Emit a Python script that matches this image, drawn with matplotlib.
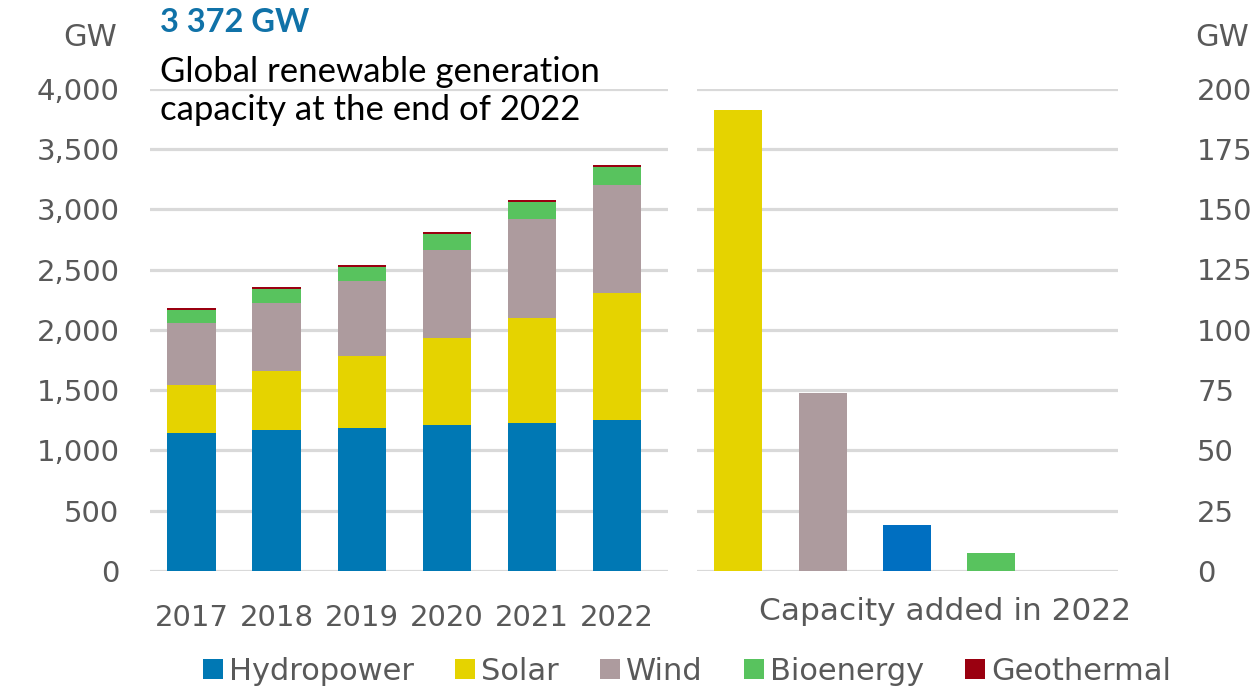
import matplotlib
matplotlib.use("Agg")
import matplotlib.pyplot as plt
from matplotlib.patches import Patch
import numpy as np

# ---- data ----
years = ["2017", "2018", "2019", "2020", "2021", "2022"]
hydro = [1144, 1169, 1188, 1208, 1229, 1249]
solar = [398, 492, 592, 721, 866, 1056]
wind = [514, 561, 622, 732, 823, 897]
bio = [110, 118, 121, 133, 144, 150]
geo = [14, 14, 14, 15, 15, 15]

series_names = ["Hydropower", "Solar", "Wind", "Bioenergy", "Geothermal"]
added_techs = ["Solar", "Wind", "Hydropower", "Bioenergy", "Geothermal"]
added_values = [191, 74, 19, 7.5, 0.2]

left_ticks = [0, 500, 1000, 1500, 2000, 2500, 3000, 3500, 4000]
right_ticks = [0, 25, 50, 75, 100, 125, 150, 175, 200]
right_xlabel = "Capacity added in 2022"
headline = "3 372 GW"
subtitle = "Global renewable generation\ncapacity at the end of 2022"

colors = {
    "Hydropower": "#0078B4",
    "Solar": "#E5D300",
    "Wind": "#AD9B9E",
    "Bioenergy": "#58C35E",
    "Geothermal": "#9A0010",
}
added_colors = {
    "Solar": "#E5D300",
    "Wind": "#AD9B9E",
    "Hydropower": "#006FC1",
    "Bioenergy": "#58C35E",
    "Geothermal": "#9A0010",
}

TICK_FONT = ["DejaVu Sans"]
NOTE_FONT = ["Lato", "DejaVu Sans"]
TICK_COLOR = "#595959"
GRID_COLOR = "#D9D9D9"
plt.rcParams["font.family"] = TICK_FONT

W, H = 1260, 686
fig = plt.figure(figsize=(W / 100, H / 100), dpi=100)
fig.patch.set_facecolor("white")

bottom_px, top_px = 571, 88.6
ax_b = 1 - bottom_px / H
ax_h = (bottom_px - top_px) / H

ax1 = fig.add_axes([150 / W, ax_b, (668 - 150) / W, ax_h])
ax2 = fig.add_axes([697 / W, ax_b, (1118 - 697) / W, ax_h])

# ---- left stacked bars ----
x = np.arange(len(years))
stack = [hydro, solar, wind, bio, geo]
bottoms = np.zeros(len(years))
for name, vals in zip(series_names, stack):
    ax1.bar(x, vals, width=0.57, bottom=bottoms, color=colors[name], zorder=3, linewidth=0)
    bottoms += np.array(vals)

ax1.set_xlim(-0.49, 5.6)
ax1.set_ylim(0, 4000)
ax1.set_yticks(left_ticks)
ax1.set_yticklabels([f"{v:,}" for v in left_ticks])
ax1.set_xticks(x)
ax1.set_xticklabels(years)

# ---- right bars ----
x2 = np.arange(len(added_techs))
ax2.bar(x2, added_values, width=0.57, color=[added_colors[t] for t in added_techs],
        zorder=3, linewidth=0)
ax2.set_xlim(-0.49, 4.5)
ax2.set_ylim(0, 200)
ax2.set_yticks(right_ticks)
ax2.set_yticklabels([str(v) for v in right_ticks])
ax2.yaxis.tick_right()
ax2.set_xticks([2.45])
ax2.set_xticklabels([right_xlabel])

for ax in (ax1, ax2):
    for s in ax.spines.values():
        s.set_visible(False)
    ax.grid(axis="y", color=GRID_COLOR, linewidth=2.3, zorder=0)
    ax.set_axisbelow(True)
    ax.tick_params(axis="both", length=0, labelsize=21, labelcolor=TICK_COLOR)
    ax.set_facecolor("none")

ax1.tick_params(axis="y", pad=22)
ax1.tick_params(axis="x", pad=24)
ax2.tick_params(axis="y", pad=57)
ax2.tick_params(axis="x", pad=19, labelsize=22.5)
for lab in ax2.get_yticklabels():
    lab.set_horizontalalignment("left")

# ---- texts ----
fig.text(90 / W, 1 - 38 / H, "GW", ha="center", va="center", fontsize=22, color=TICK_COLOR)
fig.text(1222 / W, 1 - 38 / H, "GW", ha="center", va="center", fontsize=22, color=TICK_COLOR)
fig.text(160 / W, 1 - 23 / H, headline, ha="left", va="center", fontsize=23.5,
         fontweight="bold", color="#1072A8", family=NOTE_FONT)
fig.text(160 / W, 1 - 91 / H, subtitle, ha="left", va="center", fontsize=25,
         color="black", linespacing=1.2, family=NOTE_FONT)

# ---- legend ----
handles = [Patch(facecolor=colors[n], edgecolor="none") for n in series_names]
leg = fig.legend(handles, series_names, loc="center", bbox_to_anchor=(687 / W, 1 - 671 / H),
                 ncol=5, frameon=False, fontsize=22, handlelength=0.65, handleheight=0.65,
                 handletextpad=0.2, columnspacing=1.35, borderaxespad=0)
for t in leg.get_texts():
    t.set_color(TICK_COLOR)

fig.savefig("out.png", dpi=100)
